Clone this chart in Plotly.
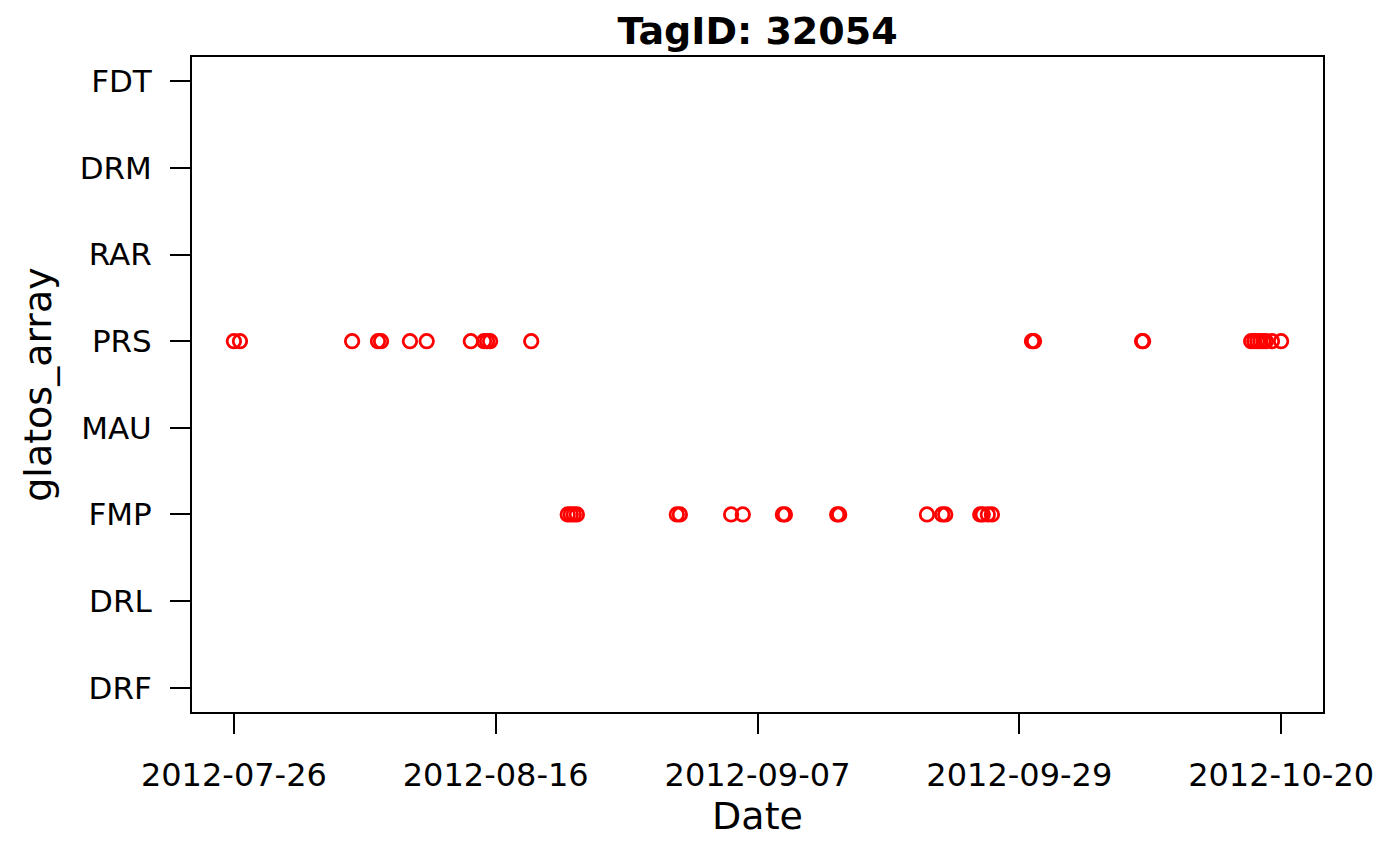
import pandas as pd
import plotly.graph_objects as go

# detections, one list per receiver group
prs_times = ['2012-07-26 00:00', '2012-07-26 12:00', '2012-08-04 17:00', '2012-08-06 20:00',
             '2012-08-07 02:00', '2012-08-09 11:00', '2012-08-10 20:00', '2012-08-14 11:00',
             '2012-08-15 13:00', '2012-08-15 19:00', '2012-08-16 01:00', '2012-08-19 10:00',
             '2012-09-29 13:00', '2012-09-29 17:00', '2012-10-08 14:00', '2012-10-08 16:00',
             '2012-10-17 13:00', '2012-10-17 19:00', '2012-10-18 01:00', '2012-10-18 07:00',
             '2012-10-18 13:00', '2012-10-18 18:00', '2012-10-19 06:00', '2012-10-20 00:00']
fmp_times = ['2012-08-22 10:00', '2012-08-22 16:00', '2012-08-22 22:00', '2012-08-23 04:00',
             '2012-08-31 09:00', '2012-08-31 15:00', '2012-09-04 20:00', '2012-09-05 19:00',
             '2012-09-09 02:00', '2012-09-09 06:00', '2012-09-13 13:00', '2012-09-13 17:00',
             '2012-09-20 22:00', '2012-09-22 04:00', '2012-09-22 10:00', '2012-09-25 07:00',
             '2012-09-25 12:00', '2012-09-25 22:00', '2012-09-26 06:00']

array_order = ['DRF', 'DRL', 'FMP', 'MAU', 'PRS', 'RAR', 'DRM', 'FDT']
tick_labels = ['2012-07-26', '2012-08-16', '2012-09-07', '2012-09-29', '2012-10-20']

times = pd.to_datetime(prs_times + fmp_times)
groups = ['PRS'] * len(prs_times) + ['FMP'] * len(fmp_times)

tmin, tmax = times.min(), times.max()
span = tmax - tmin
tick_vals = [tmin + span * i / 4 for i in range(5)]
x_range = [tmin - span * 0.04, tmax + span * 0.04]
n = len(array_order) - 1
y_range = [-0.04 * n, n + 0.04 * n]

fig = go.Figure(go.Scatter(
    x=times, y=groups, mode='markers',
    marker=dict(symbol='circle-open', size=13.5, color='red', line=dict(width=2.8, color='red')),
    showlegend=False))

# page body has an 8px margin, so the figure is 8px smaller than the window
W, H = 1392, 858
font = 'DejaVu Sans'
fig.update_layout(
    width=W, height=H,
    paper_bgcolor='white', plot_bgcolor='white',
    margin=dict(l=184, r=77, t=49, b=154),
    font=dict(family=font, color='black', size=31),
    title=dict(text='<b>TagID: 32054</b>', x=(184 + 1131 / 2) / W, xanchor='center',
               y=1 - 23 / H, yanchor='middle',
               font=dict(family=font, size=38, color='black')),
)
fig.update_xaxes(
    type='date', range=x_range, tickvals=tick_vals, ticktext=tick_labels,
    showgrid=False, zeroline=False,
    showline=True, mirror=True, linecolor='black', linewidth=2,
    ticks='outside', ticklen=20, tickwidth=2, tickcolor='black',
    ticklabelstandoff=14,
    tickfont=dict(family=font, size=32, color='black'),
    title=dict(text='Date', font=dict(family=font, size=38, color='black'), standoff=8),
)
fig.update_yaxes(
    type='category', categoryorder='array', categoryarray=array_order, range=y_range,
    showgrid=False, zeroline=False,
    showline=True, mirror=True, linecolor='black', linewidth=2,
    ticks='outside', ticklen=20, tickwidth=2, tickcolor='black',
    ticklabelstandoff=12,
    tickfont=dict(family=font, size=31, color='black'),
    title=dict(text='glatos_array', font=dict(family=font, size=38, color='black'), standoff=16),
)

fig.write_html('out.html')
